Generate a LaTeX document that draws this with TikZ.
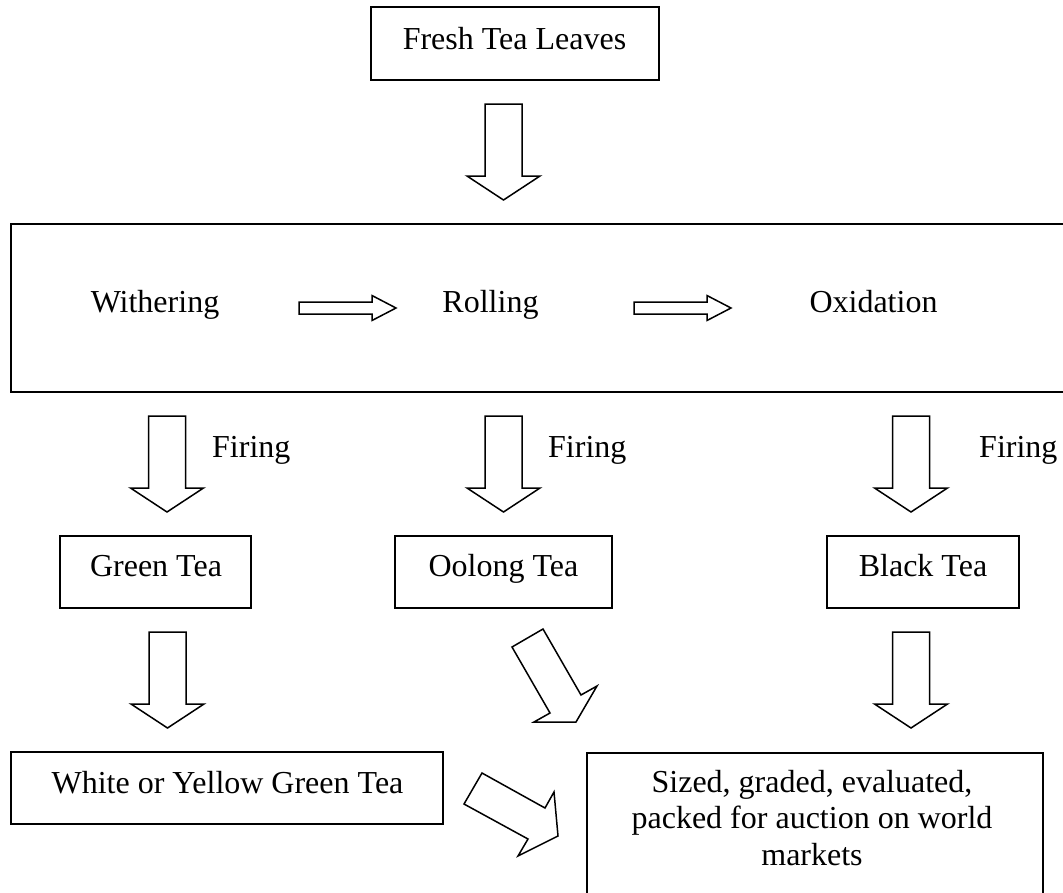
\documentclass[tikz,border=0pt]{standalone}
\usepackage{fontspec}
\setmainfont{Liberation Serif}
\begin{document}
\begin{tikzpicture}[x=1pt,y=-1pt,
  box/.style={draw=black, line width=1.8pt, inner sep=0pt},
  txt/.style={inner sep=0pt, anchor=base, font=\fontsize{32}{36.5}\selectfont},
  blockarrow/.style={draw=black, line width=1.5pt, line join=miter, fill=white},
  pics/downblock/.style={code={
    \draw[blockarrow] (-18.5,0) -- (18.5,0) -- (18.5,72) -- (36.5,72) -- (0,96)
      -- (-36.5,72) -- (-18.5,72) -- cycle;}},
  pics/rightblock/.style={code={
    \draw[blockarrow] (0,-6) -- (73,-6) -- (73,-12.5) -- (97,0) -- (73,12.5)
      -- (73,6) -- (0,6) -- cycle;}}
]
\useasboundingbox (0,0) rectangle (1063,892);
\clip (0,0) rectangle (1063,892);

% boxes
\node[box, minimum width=288pt, minimum height=73pt] (fresh) at (515,43.5) {};
\node[box, minimum width=1069pt, minimum height=168pt] (proc) at (545.5,308) {};
\node[box, minimum width=191pt, minimum height=72pt] (green) at (155.5,572) {};
\node[box, minimum width=217pt, minimum height=72pt] (oolong) at (503.5,572) {};
\node[box, minimum width=192pt, minimum height=72pt] (black) at (923,572) {};
\node[box, minimum width=432pt, minimum height=72pt] (white) at (227,788) {};
\node[box, minimum width=456pt, minimum height=147pt] (final) at (815,826.5) {};

% texts
\node[txt] (freshT) at (514.5,49) {Fresh Tea Leaves};
\node[txt] (wither) at (155,312) {Withering};
\node[txt] (roll) at (490.5,312) {Rolling};
\node[txt] (oxid) at (873.5,312) {Oxidation};
\node[txt, anchor=base west] (fire1) at (212,457) {Firing};
\node[txt, anchor=base west] (fire2) at (548,457) {Firing};
\node[txt, anchor=base west] (fire3) at (979,457) {Firing};
\node[txt] (greenT) at (156,576) {Green Tea};
\node[txt] (oolongT) at (503.5,576) {Oolong Tea};
\node[txt] (blackT) at (923,576) {Black Tea};
\node[txt] (whiteT) at (227.5,793) {White or Yellow Green Tea};
\node[txt] (fin1) at (812,792) {Sized, graded, evaluated,};
\node[txt] (fin2) at (812,828) {packed for auction on world};
\node[txt] (fin3) at (812,865) {markets};

% block arrows
\pic at (503.5,104) {downblock};
\pic at (299,308) {rightblock};
\pic at (634,308) {rightblock};
\pic at (167,416) {downblock};
\pic at (503.5,416) {downblock};
\pic at (911,416) {downblock};
\pic at (167.5,632) {downblock};
\pic at (911,632) {downblock};

% diagonal block arrows
\draw[blockarrow] (543,629) -- (581,695) -- (597,686) -- (576,722) -- (534,722)
  -- (550,713) -- (512,647) -- cycle;
\draw[blockarrow] (482,773) -- (545,808) -- (554,792) -- (558,836) -- (518,856)
  -- (528,839) -- (464,804) -- cycle;
\end{tikzpicture}
\end{document}
